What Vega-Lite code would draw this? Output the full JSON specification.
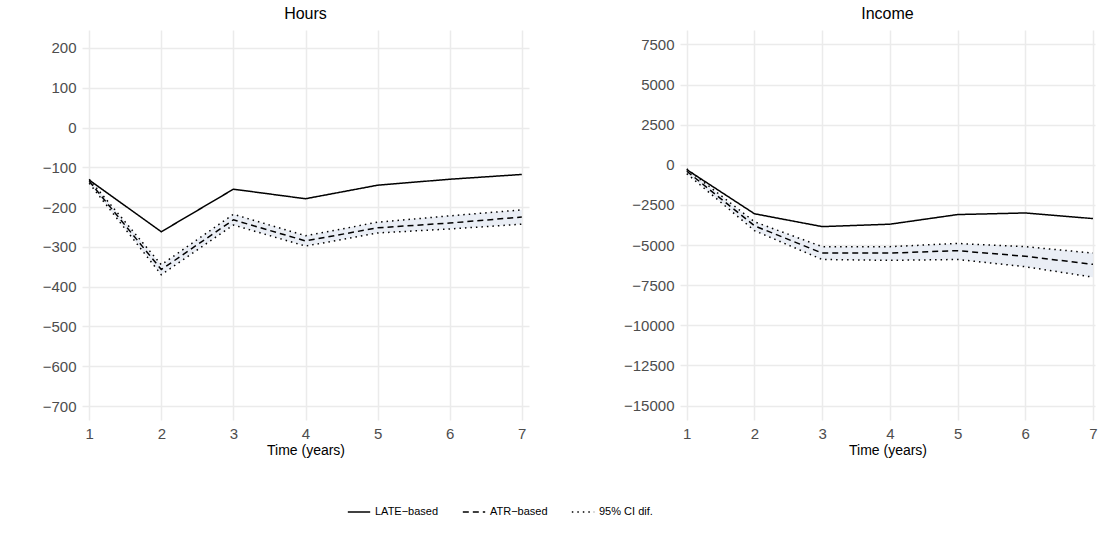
{
  "$schema": "https://vega.github.io/schema/vega-lite/v6.json",
  "background": "white",
  "padding": {"left": 42, "right": 12, "top": 6, "bottom": 5},
  "config": {
    "font": "Liberation Sans",
    "view": {"stroke": null},
    "axis": {"domain": false, "ticks": false, "gridColor": "#EBEBEB", "gridWidth": 1.5, "labelFontSize": 15, "labelColor": "#4D4D4D", "labelPadding": 6, "titleFontSize": 14, "titleFontWeight": "normal", "titleColor": "black"},
    "title": {"fontSize": 16, "fontWeight": "normal", "anchor": "middle", "offset": 8},
    "legend": {"orient": "none", "legendX": 265, "legendY": 470, "direction": "horizontal", "title": null, "labelFontSize": 11, "symbolSize": 500, "symbolStrokeWidth": 1.5, "symbolStrokeColor": "black", "symbolFillColor": "#E5EAF2", "columnPadding": 20}
  },
  "datasets": {
    "lines": [
      {"panel": "Hours", "time": 1, "series": "LATE\u2212based", "part": "a", "value": -132},
      {"panel": "Hours", "time": 2, "series": "LATE\u2212based", "part": "a", "value": -262},
      {"panel": "Hours", "time": 3, "series": "LATE\u2212based", "part": "a", "value": -155},
      {"panel": "Hours", "time": 4, "series": "LATE\u2212based", "part": "a", "value": -179},
      {"panel": "Hours", "time": 5, "series": "LATE\u2212based", "part": "a", "value": -145},
      {"panel": "Hours", "time": 6, "series": "LATE\u2212based", "part": "a", "value": -130},
      {"panel": "Hours", "time": 7, "series": "LATE\u2212based", "part": "a", "value": -118},
      {"panel": "Hours", "time": 1, "series": "ATR\u2212based", "part": "a", "value": -135},
      {"panel": "Hours", "time": 2, "series": "ATR\u2212based", "part": "a", "value": -357},
      {"panel": "Hours", "time": 3, "series": "ATR\u2212based", "part": "a", "value": -232},
      {"panel": "Hours", "time": 4, "series": "ATR\u2212based", "part": "a", "value": -285},
      {"panel": "Hours", "time": 5, "series": "ATR\u2212based", "part": "a", "value": -252},
      {"panel": "Hours", "time": 6, "series": "ATR\u2212based", "part": "a", "value": -240},
      {"panel": "Hours", "time": 7, "series": "ATR\u2212based", "part": "a", "value": -225},
      {"panel": "Hours", "time": 1, "series": "95% CI dif.", "part": "lo", "value": -140},
      {"panel": "Hours", "time": 2, "series": "95% CI dif.", "part": "lo", "value": -370},
      {"panel": "Hours", "time": 3, "series": "95% CI dif.", "part": "lo", "value": -245},
      {"panel": "Hours", "time": 4, "series": "95% CI dif.", "part": "lo", "value": -298},
      {"panel": "Hours", "time": 5, "series": "95% CI dif.", "part": "lo", "value": -265},
      {"panel": "Hours", "time": 6, "series": "95% CI dif.", "part": "lo", "value": -255},
      {"panel": "Hours", "time": 7, "series": "95% CI dif.", "part": "lo", "value": -243},
      {"panel": "Hours", "time": 1, "series": "95% CI dif.", "part": "hi", "value": -130},
      {"panel": "Hours", "time": 2, "series": "95% CI dif.", "part": "hi", "value": -345},
      {"panel": "Hours", "time": 3, "series": "95% CI dif.", "part": "hi", "value": -218},
      {"panel": "Hours", "time": 4, "series": "95% CI dif.", "part": "hi", "value": -272},
      {"panel": "Hours", "time": 5, "series": "95% CI dif.", "part": "hi", "value": -238},
      {"panel": "Hours", "time": 6, "series": "95% CI dif.", "part": "hi", "value": -222},
      {"panel": "Hours", "time": 7, "series": "95% CI dif.", "part": "hi", "value": -207},
      {"panel": "Income", "time": 1, "series": "LATE\u2212based", "part": "a", "value": -300},
      {"panel": "Income", "time": 2, "series": "LATE\u2212based", "part": "a", "value": -3050},
      {"panel": "Income", "time": 3, "series": "LATE\u2212based", "part": "a", "value": -3850},
      {"panel": "Income", "time": 4, "series": "LATE\u2212based", "part": "a", "value": -3700},
      {"panel": "Income", "time": 5, "series": "LATE\u2212based", "part": "a", "value": -3100},
      {"panel": "Income", "time": 6, "series": "LATE\u2212based", "part": "a", "value": -3000},
      {"panel": "Income", "time": 7, "series": "LATE\u2212based", "part": "a", "value": -3350},
      {"panel": "Income", "time": 1, "series": "ATR\u2212based", "part": "a", "value": -400},
      {"panel": "Income", "time": 2, "series": "ATR\u2212based", "part": "a", "value": -3800},
      {"panel": "Income", "time": 3, "series": "ATR\u2212based", "part": "a", "value": -5500},
      {"panel": "Income", "time": 4, "series": "ATR\u2212based", "part": "a", "value": -5500},
      {"panel": "Income", "time": 5, "series": "ATR\u2212based", "part": "a", "value": -5350},
      {"panel": "Income", "time": 6, "series": "ATR\u2212based", "part": "a", "value": -5700},
      {"panel": "Income", "time": 7, "series": "ATR\u2212based", "part": "a", "value": -6200},
      {"panel": "Income", "time": 1, "series": "95% CI dif.", "part": "lo", "value": -550},
      {"panel": "Income", "time": 2, "series": "95% CI dif.", "part": "lo", "value": -4100},
      {"panel": "Income", "time": 3, "series": "95% CI dif.", "part": "lo", "value": -5900},
      {"panel": "Income", "time": 4, "series": "95% CI dif.", "part": "lo", "value": -5950},
      {"panel": "Income", "time": 5, "series": "95% CI dif.", "part": "lo", "value": -5900},
      {"panel": "Income", "time": 6, "series": "95% CI dif.", "part": "lo", "value": -6350},
      {"panel": "Income", "time": 7, "series": "95% CI dif.", "part": "lo", "value": -7000},
      {"panel": "Income", "time": 1, "series": "95% CI dif.", "part": "hi", "value": -250},
      {"panel": "Income", "time": 2, "series": "95% CI dif.", "part": "hi", "value": -3550},
      {"panel": "Income", "time": 3, "series": "95% CI dif.", "part": "hi", "value": -5100},
      {"panel": "Income", "time": 4, "series": "95% CI dif.", "part": "hi", "value": -5100},
      {"panel": "Income", "time": 5, "series": "95% CI dif.", "part": "hi", "value": -4900},
      {"panel": "Income", "time": 6, "series": "95% CI dif.", "part": "hi", "value": -5100},
      {"panel": "Income", "time": 7, "series": "95% CI dif.", "part": "hi", "value": -5500}
    ]
  },
  "spacing": 94,
  "hconcat": [
    {
      "title": "Hours",
      "width": 447,
      "height": 390,
      "data": {"name": "lines"},
      "transform": [{"filter": "datum.panel == 'Hours'"}],
      "encoding": {
        "x": {"field": "time", "type": "quantitative", "title": "Time (years)", "scale": {"domain": [0.9, 7.1], "nice": false}, "axis": {"values": [1, 2, 3, 4, 5, 6, 7], "titlePadding": 2}}
      },
      "layer": [
        {
          "transform": [{"filter": "datum.part != 'a'"}, {"pivot": "part", "value": "value", "groupby": ["time"]}],
          "mark": {"type": "area", "color": "#E5EAF2", "opacity": 0.8},
          "encoding": {"y": {"field": "lo", "type": "quantitative"}, "y2": {"field": "hi"}}
        },
        {
          "mark": {"type": "line", "color": "black", "strokeWidth": 1.5},
          "encoding": {
            "y": {"field": "value", "type": "quantitative", "title": null, "scale": {"domain": [-735, 245], "nice": false}, "axis": {"values": [200, 100, 0, -100, -200, -300, -400, -500, -600, -700], "format": "d"}},
            "detail": {"field": "part"},
            "strokeDash": {"field": "series", "type": "nominal", "scale": {"domain": ["LATE\u2212based", "ATR\u2212based", "95% CI dif."], "range": [[1, 0], [6, 4], [1.5, 4]]}}
          }
        }
      ]
    },
    {
      "title": "Income",
      "width": 415,
      "height": 390,
      "data": {"name": "lines"},
      "transform": [{"filter": "datum.panel == 'Income'"}],
      "encoding": {
        "x": {"field": "time", "type": "quantitative", "title": "Time (years)", "scale": {"domain": [0.9, 7.03], "nice": false}, "axis": {"values": [1, 2, 3, 4, 5, 6, 7], "titlePadding": 2}}
      },
      "layer": [
        {
          "transform": [{"filter": "datum.part != 'a'"}, {"pivot": "part", "value": "value", "groupby": ["time"]}],
          "mark": {"type": "area", "color": "#E5EAF2", "opacity": 0.8},
          "encoding": {"y": {"field": "lo", "type": "quantitative"}, "y2": {"field": "hi"}}
        },
        {
          "mark": {"type": "line", "color": "black", "strokeWidth": 1.5},
          "encoding": {
            "y": {"field": "value", "type": "quantitative", "title": null, "scale": {"domain": [-15900, 8400], "nice": false}, "axis": {"values": [7500, 5000, 2500, 0, -2500, -5000, -7500, -10000, -12500, -15000], "format": "d"}},
            "detail": {"field": "part"},
            "strokeDash": {"field": "series", "type": "nominal", "scale": {"domain": ["LATE\u2212based", "ATR\u2212based", "95% CI dif."], "range": [[1, 0], [6, 4], [1.5, 4]]}}
          }
        }
      ]
    }
  ],
  "resolve": {"scale": {"y": "independent", "x": "independent", "strokeDash": "shared"}, "legend": {"strokeDash": "shared"}}
}
